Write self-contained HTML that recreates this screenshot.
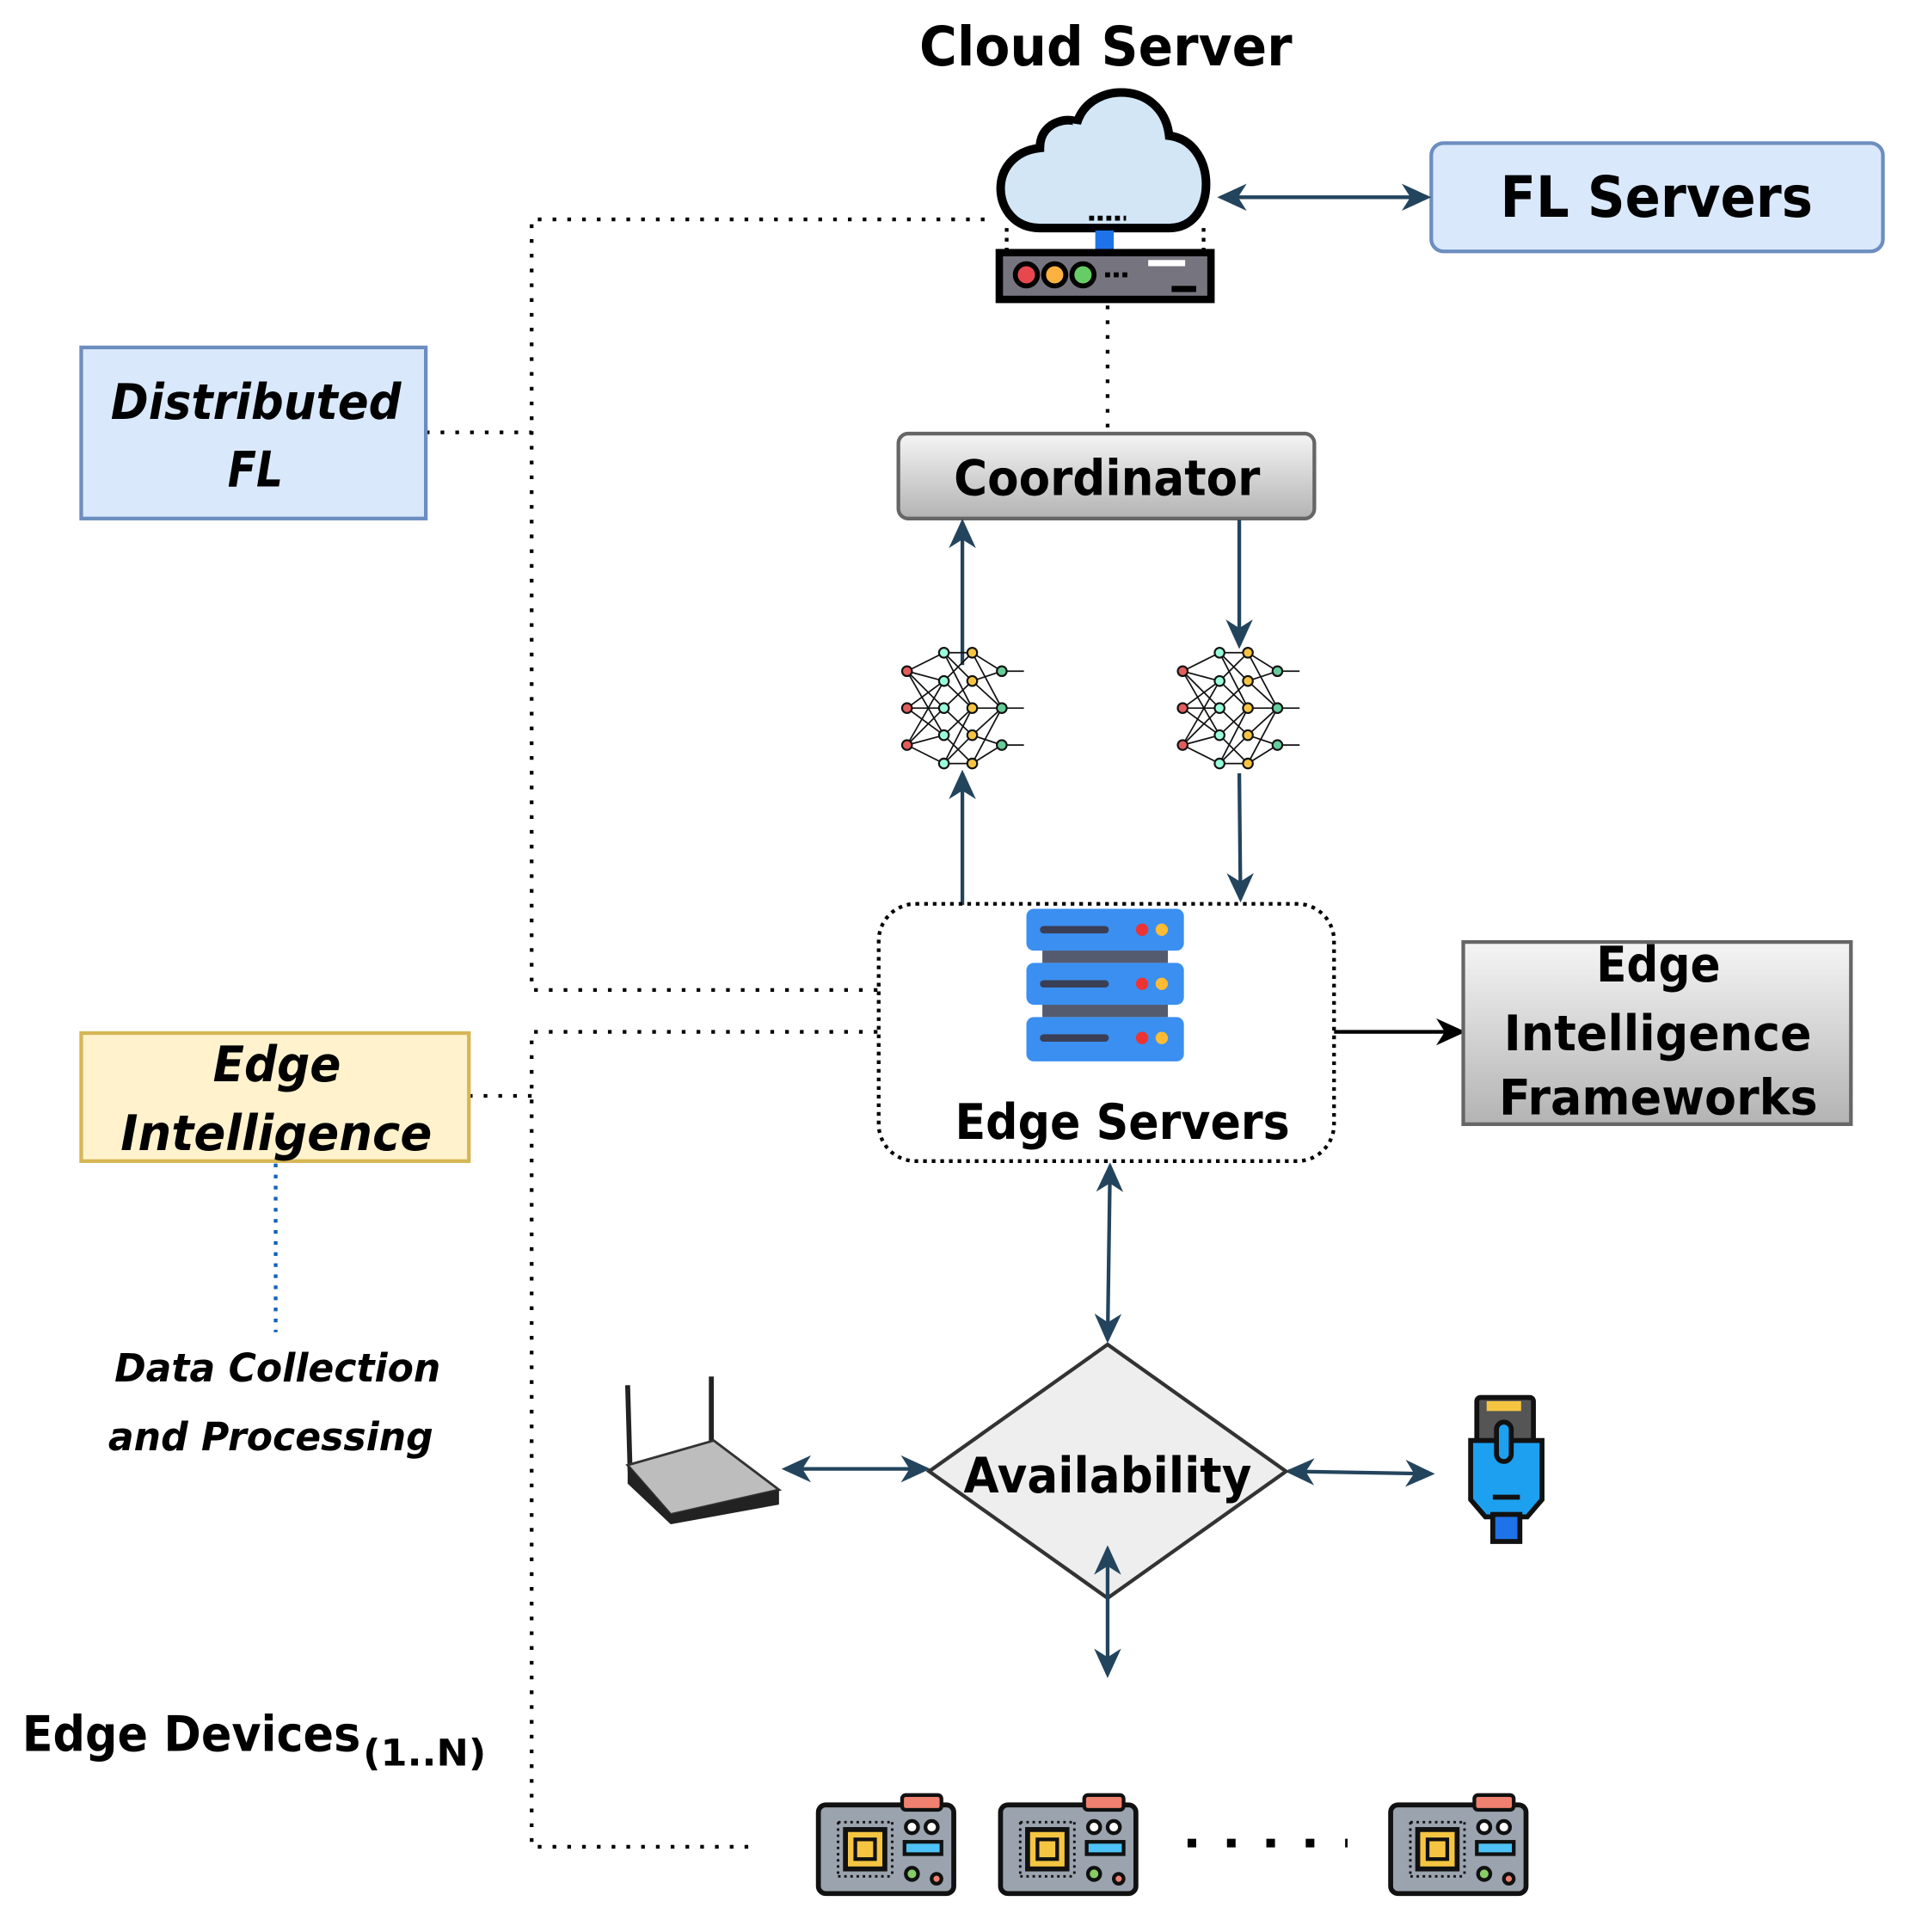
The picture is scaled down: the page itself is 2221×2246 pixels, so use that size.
<!DOCTYPE html>
<html><head><meta charset="utf-8"><style>
html,body{margin:0;padding:0;background:#fff}
svg{display:block}
text{font-family:"DejaVu Sans","Liberation Sans",sans-serif;font-weight:bold;fill:#000}
</style></head><body>
<svg width="2221" height="2246" viewBox="0 0 1552 1569" xmlns="http://www.w3.org/2000/svg">
<defs>
<marker id="a" viewBox="0 0 24 24" refX="21" refY="12" markerWidth="24" markerHeight="24" markerUnits="userSpaceOnUse" orient="auto-start-reverse">
<path d="M0,1 L24,12 L0,23 L7,12 Z" fill="#23445d"/></marker>
<marker id="b" viewBox="0 0 24 24" refX="21" refY="12" markerWidth="24" markerHeight="24" markerUnits="userSpaceOnUse" orient="auto">
<path d="M0,1 L24,12 L0,23 L7,12 Z" fill="#000"/></marker>
<linearGradient id="g" x1="0" y1="0" x2="0" y2="1"><stop offset="0" stop-color="#f5f5f5"/><stop offset="1" stop-color="#b3b3b3"/></linearGradient>
<g id="nn" stroke="#111" stroke-width="1.2" fill="none">
<path d="M-45,-30 L-15,-45 M-45,-30 L-15,-22 M-45,-30 L-15,0 M-45,0 L-15,-22 M-45,0 L-15,22 M-45,0 L-15,0 M-45,30 L-15,22 M-45,30 L-15,45 M-45,30 L-15,0 M-45,-30 L-15,22 M-45,30 L-15,-22"/>
<path d="M-15,-45 L8,-45 M-15,-45 L8,-22 M-15,-22 L8,0 M-15,0 L8,22 M-15,22 L8,45 M-15,45 L8,22 M-15,-22 L8,-45 M-15,0 L8,-22 M-15,22 L8,0 M-15,45 L8,45 M-15,-45 L8,0 M-15,45 L8,0"/>
<path d="M8,-45 L32,-30 M8,-22 L32,-30 M8,0 L32,0 M8,22 L32,30 M8,45 L32,30 M8,-22 L32,0 M8,22 L32,0 M8,-45 L32,0 M8,45 L32,0 M32,-30 L50,-30 M32,0 L50,0 M32,30 L50,30"/>
<g stroke-width="1.5"><circle cx="-45" cy="-30" r="4" fill="#e35d5d"/><circle cx="-45" cy="0" r="4" fill="#e35d5d"/><circle cx="-45" cy="30" r="4" fill="#e35d5d"/>
<circle cx="-15" cy="-45" r="4" fill="#9fd"/><circle cx="-15" cy="-22" r="4" fill="#9fd"/><circle cx="-15" cy="0" r="4" fill="#9fd"/><circle cx="-15" cy="22" r="4" fill="#9fd"/><circle cx="-15" cy="45" r="4" fill="#9fd"/>
<circle cx="8" cy="-45" r="4" fill="#f5c542"/><circle cx="8" cy="-22" r="4" fill="#f5c542"/><circle cx="8" cy="0" r="4" fill="#f5c542"/><circle cx="8" cy="22" r="4" fill="#f5c542"/><circle cx="8" cy="45" r="4" fill="#f5c542"/>
<circle cx="32" cy="-30" r="4" fill="#6c9"/><circle cx="32" cy="0" r="4" fill="#6c9"/><circle cx="32" cy="30" r="4" fill="#6c9"/></g>
</g>
<g id="board">
<rect x="0" y="8" width="110" height="72" rx="6" fill="#9aa3ae" stroke="#111" stroke-width="4"/>
<rect x="68" y="0" width="32" height="12" rx="3" fill="#f08070" stroke="#111" stroke-width="3"/>
<rect x="22" y="28" width="32" height="32" fill="#f5c542" stroke="#111" stroke-width="4"/>
<rect x="30" y="36" width="16" height="16" fill="#f5c542" stroke="#111" stroke-width="3"/>
<path d="M16,22 h44 M16,66 h44 M16,22 v44 M60,22 v44" stroke="#111" stroke-width="2" stroke-dasharray="2 3"/>
<rect x="70" y="38" width="30" height="10" fill="#4fc3f7" stroke="#111" stroke-width="3"/>
<circle cx="76" cy="26" r="5" fill="#fff" stroke="#111" stroke-width="3"/><circle cx="92" cy="26" r="5" fill="#fff" stroke="#111" stroke-width="3"/>
<circle cx="76" cy="64" r="5" fill="#8c6" stroke="#111" stroke-width="3"/><circle cx="96" cy="68" r="4" fill="#f08070" stroke="#111" stroke-width="3"/>
</g>
</defs>

<text x="747" y="53" font-size="44" textLength="303" lengthAdjust="spacingAndGlyphs">Cloud Server</text>
<!-- cloud -->
<path d="M845,185 C805,185 800,125 845,120 C845,95 875,95 875,100 C885,65 945,65 950,110 C990,115 990,185 950,185 Z" fill="#d2e6f6" stroke="#000" stroke-width="7"/>
<path d="M885,177 h30" stroke="#000" stroke-width="4" stroke-dasharray="4 3"/>
<rect x="890" y="187" width="15" height="17" fill="#1e73e8"/>
<rect x="812" y="205" width="172" height="38" fill="#76757f" stroke="#000" stroke-width="6"/>
<circle cx="834" cy="223" r="9" fill="#e8474d" stroke="#000" stroke-width="4"/><circle cx="857" cy="223" r="9" fill="#fbb040" stroke="#000" stroke-width="4"/><circle cx="880" cy="223" r="9" fill="#6c6" stroke="#000" stroke-width="4"/>
<path d="M898,223 h20" stroke="#000" stroke-width="4" stroke-dasharray="4 3"/>
<rect x="933" y="211" width="30" height="5" fill="#fff"/><rect x="952" y="232" width="20" height="5" fill="#000"/>
<path d="M818,185 v18 M978,185 v18" stroke="#000" stroke-width="3" stroke-dasharray="3 5"/>

<rect x="1163" y="116" width="367" height="88" rx="10" fill="#dae8fc" stroke="#6c8ebf" stroke-width="3"/>
<text x="1219" y="176" font-size="46" textLength="254" lengthAdjust="spacingAndGlyphs">FL Servers</text>
<line x1="992" y1="160" x2="1160" y2="160" stroke="#23445d" stroke-width="3" marker-start="url(#a)" marker-end="url(#a)"/>

<g stroke="#000" stroke-width="3" stroke-dasharray="3 9" fill="none">
<path d="M800,178 H432 V804 H713"/>
<path d="M346,351 H432"/>
<path d="M713,838 H432 V1500 H610"/>
<path d="M381,890 H432"/>
<path d="M900,248 V352"/>
</g>
<path d="M224,945 V1082" stroke="#1060c0" stroke-width="3" stroke-dasharray="3 6"/>

<rect x="66" y="282" width="280" height="139" fill="#dae8fc" stroke="#6c8ebf" stroke-width="3"/>
<text x="90" y="340" font-size="40" font-style="italic" textLength="236" lengthAdjust="spacingAndGlyphs">Distributed</text>
<text x="185" y="395" font-size="40" font-style="italic" textLength="45" lengthAdjust="spacingAndGlyphs">FL</text>

<rect x="66" y="839" width="315" height="104" fill="#fff2cc" stroke="#d6b656" stroke-width="3"/>
<text x="173" y="878" font-size="40" font-style="italic" textLength="104" lengthAdjust="spacingAndGlyphs">Edge</text>
<text x="98" y="934" font-size="40" font-style="italic" textLength="253" lengthAdjust="spacingAndGlyphs">Intelligence</text>
<text x="93" y="1122" font-size="32" font-style="italic" textLength="265" lengthAdjust="spacingAndGlyphs">Data Collection</text>
<text x="88" y="1178" font-size="32" font-style="italic" textLength="264" lengthAdjust="spacingAndGlyphs">and Processing</text>

<rect x="730" y="352" width="338" height="69" rx="8" fill="url(#g)" stroke="#666" stroke-width="3"/>
<text x="775" y="402" font-size="40" textLength="249" lengthAdjust="spacingAndGlyphs">Coordinator</text>

<g stroke="#23445d" stroke-width="3">
<line x1="782" y1="540" x2="782" y2="424" marker-end="url(#a)"/>
<line x1="1007" y1="422" x2="1007" y2="524" marker-end="url(#a)"/>
<line x1="782" y1="735" x2="782" y2="628" marker-end="url(#a)"/>
<line x1="1007" y1="628" x2="1008" y2="730" marker-end="url(#a)"/>
<line x1="902" y1="947" x2="900" y2="1088" marker-start="url(#a)" marker-end="url(#a)"/>
<line x1="638" y1="1193" x2="753" y2="1193" marker-start="url(#a)" marker-end="url(#a)"/>
<line x1="1047" y1="1195" x2="1163" y2="1197" marker-start="url(#a)" marker-end="url(#a)"/>
</g>
<use href="#nn" x="782" y="575"/>
<use href="#nn" x="1006" y="575"/>

<rect x="714" y="734" width="370" height="209" rx="30" fill="none" stroke="#000" stroke-width="3" stroke-dasharray="3 4"/>
<g>
<rect x="847" y="768" width="102" height="14" fill="#555b6e"/><rect x="847" y="812" width="102" height="14" fill="#555b6e"/>
<rect x="834" y="738" width="128" height="34" rx="6" fill="#3b8ff0"/>
<rect x="834" y="782" width="128" height="34" rx="6" fill="#3b8ff0"/>
<rect x="834" y="826" width="128" height="36" rx="6" fill="#3b8ff0"/>
<path d="M848,755 h50 M848,799 h50 M848,843 h50" stroke="#3a3f55" stroke-width="6" stroke-linecap="round"/>
<circle cx="928" cy="755" r="5" fill="#e33"/><circle cx="944" cy="755" r="5" fill="#fb3"/>
<circle cx="928" cy="799" r="5" fill="#e33"/><circle cx="944" cy="799" r="5" fill="#fb3"/>
<circle cx="928" cy="843" r="5" fill="#e33"/><circle cx="944" cy="843" r="5" fill="#fb3"/>
</g>
<text x="776" y="925" font-size="40" textLength="272" lengthAdjust="spacingAndGlyphs">Edge Servers</text>

<line x1="1084" y1="838" x2="1188" y2="838" stroke="#000" stroke-width="3" marker-end="url(#b)"/>
<rect x="1189" y="765" width="315" height="148" fill="url(#g)" stroke="#666" stroke-width="3"/>
<text x="1297" y="797" font-size="40" textLength="101" lengthAdjust="spacingAndGlyphs">Edge</text>
<text x="1222" y="853" font-size="40" textLength="250" lengthAdjust="spacingAndGlyphs">Intelligence</text>
<text x="1218" y="905" font-size="40" textLength="259" lengthAdjust="spacingAndGlyphs">Frameworks</text>

<polygon points="900,1092 1045,1195 900,1298 755,1195" fill="#eeeeee" stroke="#333" stroke-width="3"/>
<text x="783" y="1212" font-size="40" textLength="234" lengthAdjust="spacingAndGlyphs">Availability</text>
<line x1="900" y1="1258" x2="900" y2="1360" stroke="#23445d" stroke-width="3" marker-start="url(#a)" marker-end="url(#a)"/>

<!-- router -->
<line x1="510" y1="1125" x2="512" y2="1195" stroke="#222" stroke-width="4"/>
<line x1="578" y1="1118" x2="578" y2="1175" stroke="#222" stroke-width="4"/>
<polygon points="510,1190 580,1170 633,1210 545,1230" fill="#bdbdbd" stroke="#333" stroke-width="2"/>
<polygon points="545,1230 633,1210 633,1222 545,1238 510,1205 510,1190" fill="#222"/>
<!-- ethernet plug -->
<rect x="1200" y="1135" width="46" height="36" rx="3" fill="#555" stroke="#111" stroke-width="4"/>
<rect x="1208" y="1138" width="28" height="8" fill="#f5c542"/>
<path d="M1195,1170 h58 v48 l-12,14 h-34 l-12,-14 z" fill="#1ea0f0" stroke="#111" stroke-width="4"/>
<rect x="1213" y="1230" width="22" height="22" fill="#1e73e8" stroke="#111" stroke-width="4"/>
<rect x="1216" y="1155" width="12" height="32" rx="6" fill="#1ea0f0" stroke="#111" stroke-width="4"/>
<path d="M1213,1216 h22" stroke="#111" stroke-width="4"/>

<text x="18" y="1422" font-size="40" textLength="275" lengthAdjust="spacingAndGlyphs">Edge Devices</text>
<text x="295" y="1434" font-size="30" textLength="100" lengthAdjust="spacingAndGlyphs">(1..N)</text>
<use href="#board" x="665" y="1458"/>
<use href="#board" x="813" y="1458"/>
<use href="#board" x="1130" y="1458"/>
<path d="M965,1497 H1095" stroke="#000" stroke-width="7" stroke-dasharray="7 25"/>
</svg>
</body></html>
